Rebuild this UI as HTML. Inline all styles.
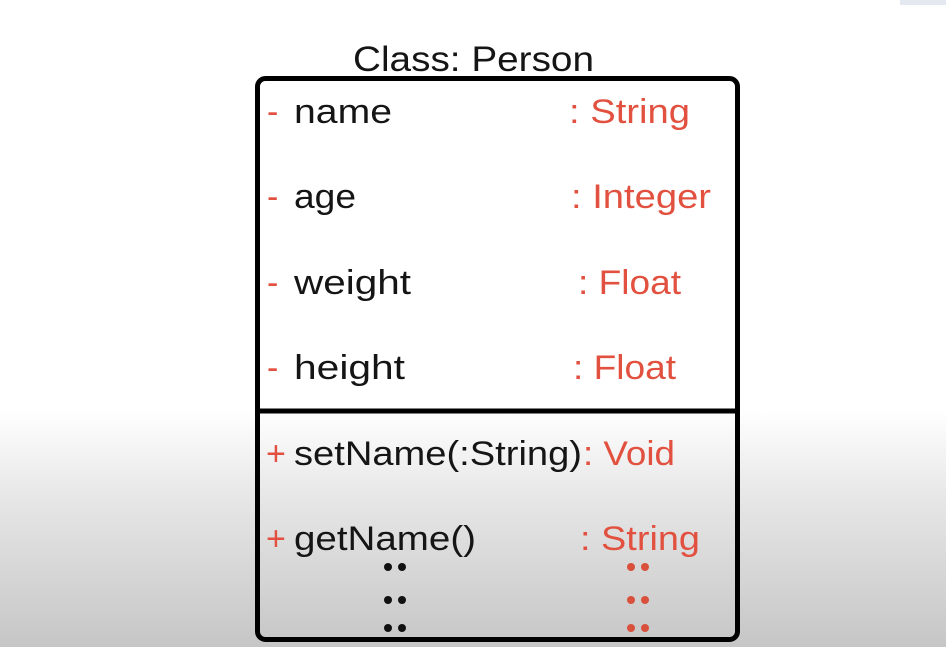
<!DOCTYPE html>
<html><head><style>
html,body{margin:0;padding:0;width:946px;height:647px;overflow:hidden;}
body{background:linear-gradient(to bottom,#fff 0px,#fff 410px,#e6e6e6 500px,#c6c6c6 647px);}
svg{position:absolute;left:0;top:0;}
text{font-family:"Liberation Sans",sans-serif;font-size:34px;}
.k{fill:#151515}.r{fill:#e2513f}
</style></head><body>
<svg width="946" height="647" viewBox="0 0 946 647">
<rect x="900" y="0" width="46" height="5" fill="#e4e8f0"/>
<text class="k" x="353" y="71" textLength="241" lengthAdjust="spacingAndGlyphs" style="font-size:35px">Class: Person</text>
<rect x="257.5" y="78.5" width="480" height="561" rx="8" fill="none" stroke="#000" stroke-width="5"/>
<line x1="257" y1="411" x2="738" y2="411" stroke="#000" stroke-width="5"/>
<g>
<text class="r" x="267" y="123">-</text>
<text class="k" x="294" y="123" textLength="98" lengthAdjust="spacingAndGlyphs">name</text>
<text class="r" x="569" y="123" textLength="121" lengthAdjust="spacingAndGlyphs">: String</text>
<text class="r" x="267" y="208">-</text>
<text class="k" x="294" y="208" textLength="62" lengthAdjust="spacingAndGlyphs">age</text>
<text class="r" x="571" y="208" textLength="140" lengthAdjust="spacingAndGlyphs">: Integer</text>
<text class="r" x="267" y="294">-</text>
<text class="k" x="294" y="294" textLength="117" lengthAdjust="spacingAndGlyphs">weight</text>
<text class="r" x="578" y="294" textLength="103" lengthAdjust="spacingAndGlyphs">: Float</text>
<text class="r" x="267" y="379">-</text>
<text class="k" x="294" y="379" textLength="111" lengthAdjust="spacingAndGlyphs">height</text>
<text class="r" x="573" y="379" textLength="103" lengthAdjust="spacingAndGlyphs">: Float</text>
<text class="r" x="266" y="465">+</text>
<text class="k" x="294" y="465" textLength="288" lengthAdjust="spacingAndGlyphs">setName(:String)</text>
<text class="r" x="583" y="465" textLength="92" lengthAdjust="spacingAndGlyphs">: Void</text>
<text class="r" x="266" y="550">+</text>
<text class="k" x="294" y="550" textLength="182" lengthAdjust="spacingAndGlyphs">getName()</text>
<text class="r" x="580" y="550" textLength="120" lengthAdjust="spacingAndGlyphs">: String</text>
</g>
<g fill="#111">
<circle cx="388" cy="567" r="4"/><circle cx="402" cy="567" r="4"/>
<circle cx="388" cy="600" r="4"/><circle cx="402" cy="600" r="4"/>
<circle cx="388" cy="628" r="4"/><circle cx="402" cy="628" r="4"/>
</g>
<g fill="#d9503d">
<circle cx="631" cy="567" r="4"/><circle cx="645" cy="567" r="4"/>
<circle cx="631" cy="600" r="4"/><circle cx="645" cy="600" r="4"/>
<circle cx="631" cy="628" r="4"/><circle cx="645" cy="628" r="4"/>
</g>
</svg>
</body></html>
